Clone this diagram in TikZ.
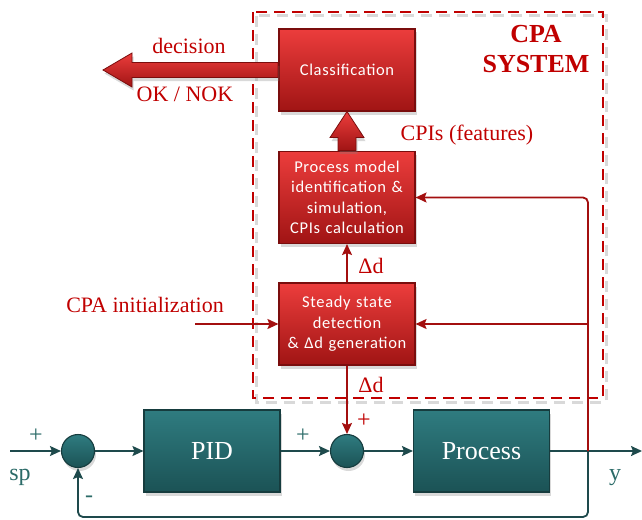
\documentclass[tikz,border=0pt]{standalone}
\usepackage{fontspec}
\setmainfont{Liberation Serif}
\newfontfamily\boxfont{Carlito}[LetterSpace=4]
\usetikzlibrary{shadows,arrows.meta,calc}

\definecolor{cpared}{HTML}{C00000}
\definecolor{linered}{HTML}{A30F0F}
\definecolor{boxtop}{HTML}{EC3D3C}
\definecolor{boxbot}{HTML}{A01414}
\definecolor{boxedge}{HTML}{7A0D0D}
\definecolor{tealtop}{HTML}{2F7C80}
\definecolor{tealbot}{HTML}{1B5255}
\definecolor{tealedge}{HTML}{163C3E}
\definecolor{tealline}{HTML}{1E4A4C}
\definecolor{tealtext}{HTML}{2B6B68}

\begin{document}
\begin{tikzpicture}[x=1pt,y=-1pt,
  softshadow/.style={drop shadow={opacity=0.3, shadow xshift=1.5pt, shadow yshift=-3.5pt}},
  redbox/.style={draw=boxedge, line width=1.1pt, top color=boxtop, bottom color=boxbot,
    minimum width=136pt, text width=134pt, align=center, inner sep=0pt,
    font=\boxfont\fontsize{16.5}{20.4}\selectfont, text=white, softshadow},
  tealbox/.style={draw=tealedge, line width=1.1pt, top color=tealtop, bottom color=tealbot,
    minimum width=136pt, minimum height=82pt, font=\fontsize{26}{30}\selectfont,
    text=white, softshadow},
  sumnode/.style={circle, draw=tealedge, line width=1.1pt, top color=tealtop,
    bottom color=tealbot, minimum size=33pt, inner sep=0pt, softshadow},
  fatarrow/.style={draw=boxedge, line width=0.8pt, top color=boxtop, bottom color=boxbot, softshadow},
  tline/.style={draw=tealline, line width=1.8pt, -{Stealth[length=11pt,width=10pt,inset=2pt]}},
  rline/.style={draw=linered, line width=1.8pt, -{Stealth[length=11pt,width=10pt,inset=2pt]}},
  lbl/.style={text=cpared, font=\fontsize{22}{26}\selectfont, inner sep=0pt},
  tlbl/.style={text=tealtext, font=\fontsize{24}{28}\selectfont, inner sep=0pt},
  sign/.style={font=\fontsize{24}{28}\selectfont, inner sep=0pt}
]
\useasboundingbox (0,0) rectangle (642,519);

% CPA system frame with its soft shadow
\draw[black!25, opacity=0.6, line width=3pt, dash pattern=on 11pt off 7pt] (256,16) rectangle (606,402);
\draw[cpared, line width=2pt, dash pattern=on 11pt off 7pt] (253,12) rectangle (603,398);

% CPA blocks
\node[redbox, minimum height=82pt] (cls) at (347,70) {Classification};
\node[redbox, minimum height=92pt] (pm) at (347,197.5) {Process model\\identification \&\\simulation,\\CPIs calculation};
\node[redbox, minimum height=82pt] (ss) at (347,324) {Steady state\\detection\\\& Δd generation};

% wide arrows: features up, decision out
\coordinate (dectip) at (103,70);
\path[fatarrow] ($(pm.north)+(-9,-0.5)$) -- ($(cls.south)+(-9,26)$) -- ($(cls.south)+(-17,26)$)
  -- (cls.south) -- ($(cls.south)+(17,26)$) -- ($(cls.south)+(9,26)$) -- ($(pm.north)+(9,-0.5)$) -- cycle;
\path[fatarrow] ($(cls.west)+(-0.5,-7.5)$) -- ($(dectip)+(29,-7.5)$) -- ($(dectip)+(29,-17)$)
  -- (dectip) -- ($(dectip)+(29,17)$) -- ($(dectip)+(29,7.5)$) -- ($(cls.west)+(-0.5,7.5)$) -- cycle;

% control loop
\node[sumnode] (sum1) at (78,451) {};
\node[tealbox] (pid) at (212,451) {PID};
\node[sumnode] (sum2) at (347,451) {};
\node[tealbox] (proc) at (481.5,451) {Process};

\coordinate (spin) at (10,451);
\coordinate (yout) at (642,451);
\coordinate (jy) at (588,451);
\coordinate (fbr) at (588,517);
\coordinate (init) at (195,324);

\draw[tline] (spin) -- (sum1.west);
\draw[tline] (sum1.east) -- (pid.west);
\draw[tline] (pid.east) -- (sum2.west);
\draw[tline] (sum2.east) -- (proc.west);
\draw[tline] (proc.east) -- (yout);
\draw[tline, rounded corners=5pt] (jy) -- (fbr) -| (sum1.south);

% CPA signal paths
\draw[rline, rounded corners=5pt] (jy) |- (pm.east);
\draw[rline] (jy |- ss.east) -- (ss.east);
\draw[rline] (init) -- (ss.west);
\draw[rline] (ss.north) -- (pm.south);
\draw[rline] (ss.south) -- (sum2.north);

% labels
\node[lbl, anchor=base] (declbl) at (189,53) {decision};
\node[lbl, anchor=base] (oklbl) at (185,101) {OK / NOK};
\node[lbl, anchor=base] (cpislbl) at (467,140) {CPIs (features)};
\node[lbl, anchor=base] (initlbl) at (145,312) {CPA initialization};
\node[lbl, anchor=base] (dd1) at (371,273) {Δd};
\node[lbl, anchor=base] (dd2) at (371,392) {Δd};
\node[lbl, anchor=base, font=\bfseries\fontsize{26}{30}\selectfont] (cpa1) at (536,42) {CPA};
\node[lbl, anchor=base, font=\bfseries\fontsize{26}{30}\selectfont] (cpa2) at (536,73) {SYSTEM};

\node[tlbl, anchor=base] (splbl) at (20,480) {sp};
\node[tlbl, anchor=base] (ylbl) at (615,480) {y};
\node[sign, text=tealtext] (p1) at (36,436) {+};
\node[sign, text=tealtext] (p2) at (303,436) {+};
\node[sign, text=cpared] (p3) at (364,421) {+};
\node[sign, text=tealtext] (m1) at (89,499) {-};
\end{tikzpicture}
\end{document}
